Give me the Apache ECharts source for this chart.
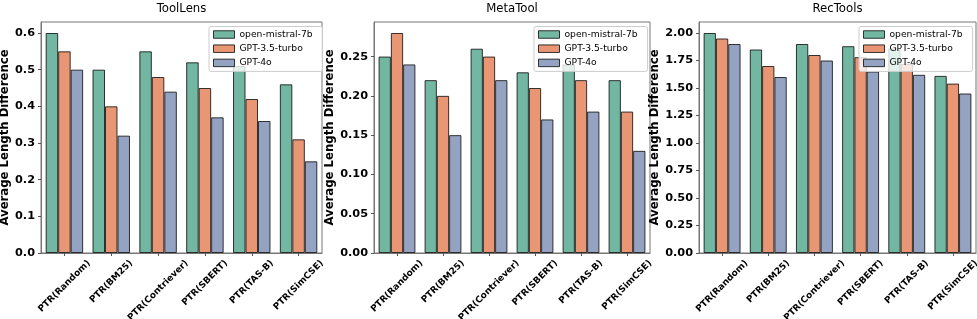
<!DOCTYPE html>
<html><head><meta charset="utf-8">
<script src="https://cdn.jsdelivr.net/npm/echarts@6/dist/echarts.min.js"></script>
<style>html,body{margin:0;padding:0;background:#fff}#c{width:977px;height:319px}</style>
</head><body><div id="c"></div>
<script>
// ---------- data ----------
const categories = ['PTR(Random)', 'PTR(BM25)', 'PTR(Contriever)', 'PTR(SBERT)', 'PTR(TAS-B)', 'PTR(SimCSE)'];
const seriesNames = ['open-mistral-7b', 'GPT-3.5-turbo', 'GPT-4o'];
const panelTitles = ['ToolLens', 'MetaTool', 'RecTools'];
const yAxisTitle = 'Average Length Difference';

const toolLensMistral = [0.60, 0.50, 0.55, 0.52, 0.51, 0.46];
const toolLensGPT35   = [0.55, 0.40, 0.48, 0.45, 0.42, 0.31];
const toolLensGPT4o   = [0.50, 0.32, 0.44, 0.37, 0.36, 0.25];

const metaToolMistral = [0.25, 0.22, 0.26, 0.23, 0.24, 0.22];
const metaToolGPT35   = [0.28, 0.20, 0.25, 0.21, 0.22, 0.18];
const metaToolGPT4o   = [0.24, 0.15, 0.22, 0.17, 0.18, 0.13];

const recToolsMistral = [2.00, 1.85, 1.90, 1.88, 1.86, 1.61];
const recToolsGPT35   = [1.95, 1.70, 1.80, 1.78, 1.72, 1.54];
const recToolsGPT4o   = [1.90, 1.60, 1.75, 1.65, 1.62, 1.45];

const toolLensTicks = ['0.0', '0.1', '0.2', '0.3', '0.4', '0.5', '0.6'];
const metaToolTicks = ['0.00', '0.05', '0.10', '0.15', '0.20', '0.25'];
const recToolsTicks = ['0.00', '0.25', '0.50', '0.75', '1.00', '1.25', '1.50', '1.75', '2.00'];

// ---------- layout / style ----------
const panelValues = [
  [toolLensMistral, toolLensGPT35, toolLensGPT4o],
  [metaToolMistral, metaToolGPT35, metaToolGPT4o],
  [recToolsMistral, recToolsGPT35, recToolsGPT4o]
];
const panelTicks = [toolLensTicks, metaToolTicks, recToolsTicks];
const panelYMax = [0.63, 0.294, 2.1];
const grids = [
  { left: 41, right: 655, nameGap: 25, legendLeft: 209 },
  { left: 374, right: 327, nameGap: 32, legendLeft: 534 },
  { left: 699, right: 1, nameGap: 32, legendLeft: 859 }
];
const W = 977;
const colors = ['#71b7a1', '#e99675', '#95a3c3'];
const FONT = '"DejaVu Sans", "Liberation Sans", sans-serif';
const spine = '#777';

const XFS = 9;
const XLH = 1.16 * XFS;

const option = {
  animation: false,
  backgroundColor: '#fff',
  title: [], grid: [], xAxis: [], yAxis: [], legend: [], series: []
};

grids.forEach((g, p) => {
  const right = W - g.right;
  const center = (g.left + right) / 2;
  option.title.push({
    text: panelTitles[p], left: center, top: 3, textAlign: 'center', padding: 0,
    textStyle: { fontFamily: FONT, fontSize: 11.7, fontWeight: 'normal', color: '#000' }
  });
  option.grid.push({
    left: g.left, right: g.right, top: 22, bottom: 66,
    show: true, borderColor: spine, borderWidth: 1, backgroundColor: 'transparent',
    outerBoundsMode: 'none'
  });
  const ticks = panelTicks[p];
  const interval = parseFloat(ticks[1]) - parseFloat(ticks[0]);
  const dec = ticks[0].split('.')[1].length;
  option.xAxis.push({
    type: 'category', gridIndex: p, data: categories,
    axisLine: { show: true, lineStyle: { color: spine, width: 1 } },
    axisTick: { show: true, alignWithLabel: true, length: 3, lineStyle: { color: '#555' } },
    axisLabel: { show: false, interval: 0 },
    splitLine: { show: false }
  });
  option.yAxis.push({
    type: 'value', gridIndex: p, min: 0, max: panelYMax[p], interval: interval,
    name: yAxisTitle, nameLocation: 'middle', nameGap: g.nameGap,
    nameTextStyle: { fontFamily: FONT, fontSize: 11.7, fontWeight: 'bold', color: '#000' },
    axisLine: { show: true, lineStyle: { color: spine, width: 1 } },
    axisTick: { show: true, length: 3, lineStyle: { color: '#555' } },
    axisLabel: {
      margin: 6, showMaxLabel: false, fontFamily: FONT, fontSize: 11.3, fontWeight: 'bold', color: '#000',
      formatter: v => (ticks.indexOf(v.toFixed(dec)) >= 0 ? v.toFixed(dec) : '')
    },
    splitLine: { show: false }
  });
  option.legend.push({
    data: seriesNames, orient: 'vertical', left: g.legendLeft, top: 26.5,
    icon: 'rect', itemWidth: 21, itemHeight: 7.5, itemGap: 3.2,
    padding: [2.5, 10, 3, 4],
    backgroundColor: 'rgba(255,255,255,0.8)', borderColor: '#ccc', borderWidth: 1, borderRadius: 2,
    textStyle: { fontFamily: FONT, fontSize: 9.2, color: '#000', lineHeight: 11 },
    itemStyle: { borderColor: 'rgba(20,20,20,0.85)', borderWidth: 1 },
    selectedMode: false
  });
  panelValues[p].forEach((vals, s) => {
    option.series.push({
      type: 'bar', name: seriesNames[s], xAxisIndex: p, yAxisIndex: p, data: vals,
      barGap: '0%', barCategoryGap: '20%',
      itemStyle: { color: colors[s], borderColor: 'rgba(20,20,20,0.85)', borderWidth: 1 },
      emphasis: { disabled: true }
    });
  });
});

const chart = echarts.init(document.getElementById('c'), null, { renderer: 'canvas' });
chart.setOption(option);

// Category tick labels, rotated 45deg and centred on the tick (matplotlib ha='center'),
// positioned from the axes' own scales.
const ctx = document.createElement('canvas').getContext('2d');
ctx.font = 'bold ' + XFS + 'px "DejaVu Sans"';
const S2 = Math.SQRT2;
const labels = [];
grids.forEach((g, p) => {
  const y0 = chart.convertToPixel({ yAxisIndex: p }, 0);
  categories.forEach((c, i) => {
    const x = chart.convertToPixel({ xAxisIndex: p }, i);
    const L = ctx.measureText(c).width;
    labels.push({
      type: 'text', x: x, y: y0 + 5 + (L + XLH) / (2 * S2), rotation: Math.PI / 4, silent: true,
      style: {
        text: c, align: 'center', verticalAlign: 'middle', lineHeight: XLH,
        fontFamily: FONT, fontSize: XFS, fontWeight: 'bold', fill: '#000'
      }
    });
  });
});
chart.setOption({ graphic: labels });
</script>
</body></html>
